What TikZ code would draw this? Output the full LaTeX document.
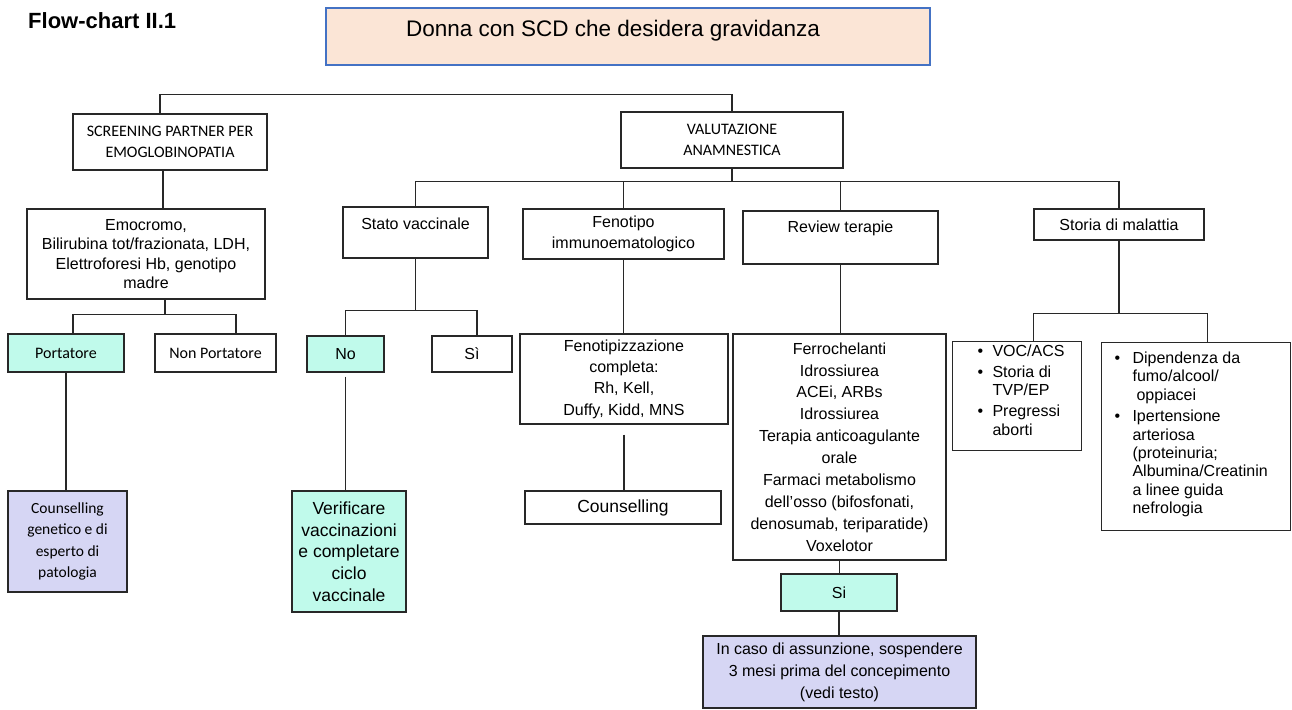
\documentclass[tikz,border=0pt]{standalone}
\usepackage{fontspec}
\setmainfont{Liberation Sans}
\newfontfamily\arfont{Liberation Sans}
\newfontfamily\calfont{Carlito}
\definecolor{peach}{RGB}{251,229,214}
\definecolor{topblue}{RGB}{68,114,196}
\definecolor{aqua}{RGB}{192,250,235}
\definecolor{lav}{RGB}{214,214,244}
\definecolor{ink}{RGB}{40,40,40}
\tikzset{
  box/.style={draw=ink, line width=1.1pt, inner sep=0pt, align=center,
    font=\arfont\fontsize{16}{21.5}\selectfont},
  listbox/.style={draw=ink, line width=1.1pt, inner sep=0pt, anchor=north west,
    font=\arfont\fontsize{16}{18.3}\selectfont},
  calibri/.style={font=\calfont\fontsize{16}{21}\selectfont},
  sz/.style 2 args={minimum width=#1, minimum height=#2},
  conn/.style={draw=ink, line width=1.3pt},
}
\newcommand{\bul}[1]{\makebox[#1][l]{•}}
\begin{document}
\begin{tikzpicture}[x=1pt, y=-1pt]
\useasboundingbox (0,0) rectangle (1292,709);

% heading and root
\node[anchor=base west, inner sep=0pt, font=\arfont\bfseries\fontsize{22}{26}\selectfont] (title) at (28,29) {Flow-chart II.1};
\node[box, draw=topblue, fill=peach, sz={604}{57}, text height=29pt, text depth=28pt,
  font=\arfont\fontsize{22.5}{27}\selectfont] (top) at (628,36.5) {\hspace*{-30pt}Donna con SCD che desidera gravidanza};

% first level
\node[box, calibri, sz={194}{56}] (scr) at (170,142) {SCREENING PARTNER PER\\EMOGLOBINOPATIA};
\node[box, calibri, sz={222}{56}] (val) at (732,140) {VALUTAZIONE\\ANAMNESTICA};

% partner screening branch
\node[box, sz={238}{90}, font=\arfont\fontsize{16}{19.5}\selectfont] (emo) at (146,254)
  {Emocromo,\\Bilirubina tot/frazionata, LDH,\\Elettroforesi Hb, genotipo\\madre};
\node[box, calibri, fill=aqua, sz={116}{38}] (por) at (66,353) {Portatore};
\node[box, calibri, sz={121}{38}] (npor) at (215.5,353) {Non Portatore};
\node[box, fill=lav, sz={119}{101}, font=\calfont\fontsize{15.5}{21.5}\selectfont] (cg) at (67.5,541.5)
  {Counselling\\genetico e di\\esperto di\\patologia};

% anamnesis branches
\node[box, sz={145}{51}, text height=22pt, text depth=29pt] (sv) at (415.5,232.5) {Stato vaccinale};
\node[box, sz={201}{50}, font=\arfont\fontsize{16}{21}\selectfont] (fen) at (623.5,234) {Fenotipo\\immunoematologico};
\node[box, sz={195}{53}, text height=21pt, text depth=32pt] (rev) at (840.5,237.5) {Review terapie};
\node[box, sz={170}{31}] (sto) at (1119,224.5) {Storia di malattia};

% vaccination
\node[box, fill=aqua, sz={77}{36}] (no) at (345.5,354) {No};
\node[box, sz={80}{36}] (si) at (472,354) {Sì};
\node[box, fill=aqua, sz={114}{121}, font=\arfont\fontsize{17.5}{21.7}\selectfont] (ver) at (349,551.5)
  {Verificare\\vaccinazioni\\e completare\\ciclo\\vaccinale};

% immunohaematology
\node[box, sz={208}{90}, font=\arfont\fontsize{16}{21.3}\selectfont] (fpz) at (624,379)
  {Fenotipizzazione\\completa:\\Rh, Kell,\\Duffy, Kidd, MNS};
\node[box, sz={196}{33}, font=\arfont\fontsize{17.5}{21}\selectfont] (cou) at (623,507.5) {Counselling};

% therapies
\node[box, sz={213}{226}, font=\arfont\fontsize{16}{21.9}\selectfont] (fer) at (839.5,447)
  {Ferrochelanti\\Idrossiurea\\ACEi, ARBs\\Idrossiurea\\Terapia anticoagulante\\orale\\Farmaci metabolismo\\dell’osso (bifosfonati,\\denosumab, teriparatide)\\Voxelotor};
\node[box, fill=aqua, sz={116}{37}] (sib) at (839,592.5) {Si};
\node[box, fill=lav, sz={273}{72}, font=\arfont\fontsize{16}{22}\selectfont] (fin) at (839.5,672)
  {In caso di assunzione, sospendere\\3 mesi prima del concepimento\\(vedi testo)};

% disease history
\node[listbox] (voc) at (952,341) {\parbox[t][109pt][t]{129pt}{\raggedright
  \rule{0pt}{14.5pt}\hspace*{25pt}\bul{15pt}VOC/ACS\\[3pt]
  \hspace*{25pt}\bul{15pt}Storia di\\
  \hspace*{40pt}TVP/EP\\[3pt]
  \hspace*{25pt}\bul{15pt}Pregressi\\
  \hspace*{40pt}aborti}};
\node[listbox] (dip) at (1101,342) {\parbox[t][188pt][t]{189pt}{\raggedright
  \rule{0pt}{21pt}\hspace*{13pt}\bul{18pt}Dipendenza da\\
  \hspace*{31pt}fumo/alcool/\\
  \hspace*{35pt}oppiacei\\[3.5pt]
  \hspace*{13pt}\bul{18pt}Ipertensione\\
  \hspace*{31pt}arteriosa\\
  \hspace*{31pt}(proteinuria;\\
  \hspace*{31pt}Albumina/Creatinin\\
  \hspace*{31pt}a linee guida\\
  \hspace*{31pt}nefrologia}};

% connectors: top level
\draw[conn] ([xshift=-10pt]scr.north) -- ++(0,-19) -| (val.north);
\draw[conn] (val.south) -- ++(0,13) coordinate (v2);
\draw[conn] (sv.north) -- (sv.north |- v2) -- (sto.north |- v2) -- (sto.north);
\draw[conn] (fen.north) -- (fen.north |- v2);
\draw[conn] (rev.north) -- (rev.north |- v2);

% partner screening
\draw[conn] ([xshift=-7pt]scr.south) -- ([xshift=17pt]emo.north);
\draw[conn] ([xshift=19pt]emo.south) -- ++(0,15) coordinate (e2);
\draw[conn] ([xshift=7pt]por.north) |- (e2) -| ([xshift=20.5pt]npor.north);
\draw[conn] (por.south) -- (por.south |- cg.north);

% vaccination
\draw[conn] (sv.south) -- ++(0,52) coordinate (s2);
\draw[conn] (no.north) |- (s2) -| ([xshift=5pt]si.north);
\draw[conn] ([yshift=-4pt]no.south) -- (no.south |- ver.north);

% immunohaematology
\draw[conn] (fen.south) -- (fen.south |- fpz.north);
\draw[conn] ([yshift=-10pt]fpz.south) -- (fpz.south |- cou.north);

% therapies
\draw[conn] (rev.south) -- (rev.south |- fer.north);
\draw[conn] (fer.south) -- (fer.south |- sib.north);
\draw[conn] (sib.south) -- (sib.south |- fin.north);

% disease history
\draw[conn] (sto.south) -- ++(0,73) coordinate (t2);
\draw[conn] ([xshift=16.5pt]voc.north) |- (t2) -| ([xshift=11.5pt]dip.north);
\end{tikzpicture}
\end{document}
